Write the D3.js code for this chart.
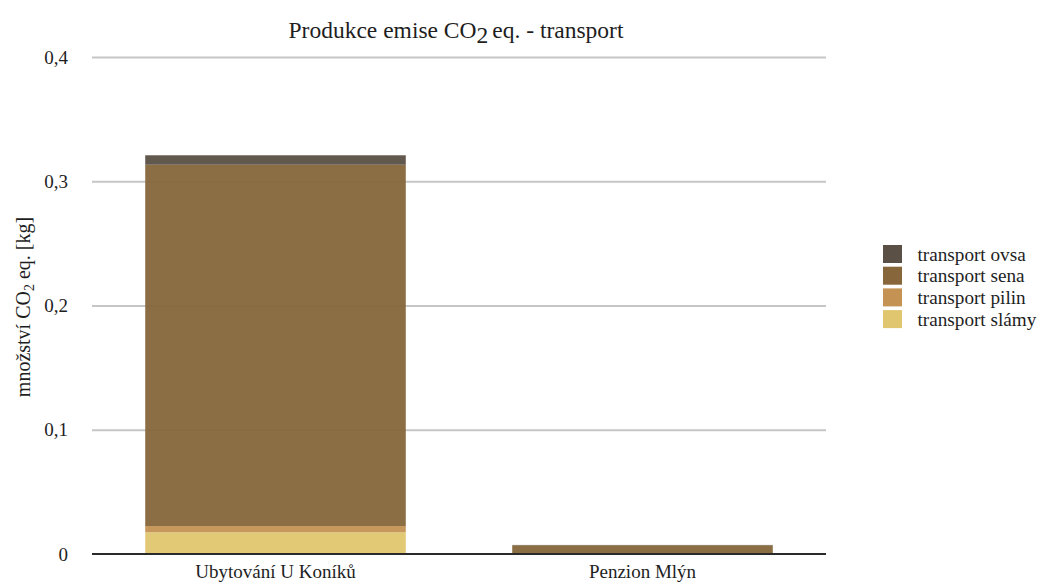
<!DOCTYPE html>
<html>
<head>
<meta charset="utf-8">
<script src="https://cdn.jsdelivr.net/npm/d3@7/dist/d3.min.js"></script>
<style>
  html, body { margin: 0; padding: 0; background: #fff; }
  svg { display: block; }
  svg text { font-family: "Liberation Serif", "Times New Roman", serif; fill: #1e1e1e; }
</style>
</head>
<body>
<svg id="chart" width="1043" height="583"></svg>
<script>
// Emise CO2 eq. z transportu podle ubytovacího zařízení
const categories = ["Ubytování U Koníků", "Penzion Mlýn"];
const seriesNames = ["transport slámy", "transport pilin", "transport sena", "transport ovsa"];
const slamy = [0.0175, 0.0];
const pilin = [0.0050, 0.0];
const sena  = [0.2908, 0.0070];
const ovsa  = [0.0076, 0.0003];
const yTicks = [0, 0.1, 0.2, 0.3, 0.4];
const colors = {
  "transport ovsa": "#5a5045",
  "transport sena": "#86663a",
  "transport pilin": "#c49253",
  "transport slámy": "#e0c66e"
};

const rows = categories.map((c, i) => ({
  cat: c,
  "transport slámy": slamy[i],
  "transport pilin": pilin[i],
  "transport sena": sena[i],
  "transport ovsa": ovsa[i]
}));

const svg = d3.select("#chart");
const plotLeft = 92, plotRight = 826, plotTop = 57, plotBottom = 554;

const x = d3.scaleBand().domain(categories).range([plotLeft, plotRight]).paddingInner(0.29).paddingOuter(0.145);
const y = d3.scaleLinear().domain([0, 0.4]).range([plotBottom, plotTop]);

// mřížka
const grid = svg.append("g").attr("transform", `translate(${plotLeft},0)`)
  .call(d3.axisLeft(y).tickValues(yTicks.filter(t => t > 0)).tickSize(-(plotRight - plotLeft)).tickFormat(""));
grid.select(".domain").remove();
grid.selectAll("line").attr("stroke", "#c6c6c6").attr("stroke-width", 2);

// popisky osy y
const fmt = d => d === 0 ? "0" : d3.format(".1f")(d).replace(".", ",");
const yAxis = svg.append("g").attr("transform", `translate(${plotLeft},0)`)
  .call(d3.axisLeft(y).tickValues(yTicks).tickSize(0).tickPadding(24).tickFormat(fmt));
yAxis.attr("font-family", null).attr("font-size", null);
yAxis.select(".domain").remove();
yAxis.selectAll("text").attr("font-size", 19);

// skládané sloupce
const stack = d3.stack().keys(seriesNames)(rows);
svg.append("g").selectAll("g").data(stack).join("g")
  .attr("fill", d => colors[d.key])
  .selectAll("rect").data(d => d).join("rect")
  .attr("x", d => x(d.data.cat))
  .attr("width", x.bandwidth())
  .attr("y", d => y(d[1]))
  .attr("height", d => y(d[0]) - y(d[1]))
  .attr("fill-opacity", 0.95);

// osa x
const xAxis = svg.append("g").attr("transform", `translate(0,${plotBottom})`)
  .call(d3.axisBottom(x).tickSize(0).tickPadding(11));
xAxis.attr("font-family", null).attr("font-size", null);
xAxis.select(".domain").attr("stroke", "#2a2a2a").attr("stroke-width", 2)
  .attr("d", `M${plotLeft},0H${plotRight}`);
xAxis.selectAll("text").attr("font-size", 19);

// nadpis
const title = svg.append("text").attr("x", 456).attr("y", 38)
  .attr("text-anchor", "middle").attr("font-size", 23.5);
title.append("tspan").text("Produkce emise CO");
title.append("tspan").attr("dy", 5).text("2");
title.append("tspan").attr("dy", -5).attr("dx", 4).text("eq. - transport");

// popisek osy y
const yl = svg.append("text")
  .attr("transform", `translate(30,${307}) rotate(-90)`)
  .attr("text-anchor", "middle").attr("font-size", 20);
yl.append("tspan").text("množství CO");
yl.append("tspan").attr("dy", 4).attr("font-size", 14).text("2");
yl.append("tspan").attr("dy", -4).text(" eq. [kg]");

// legenda
const legendOrder = ["transport ovsa", "transport sena", "transport pilin", "transport slámy"];
const lg = svg.append("g").selectAll("g").data(legendOrder).join("g")
  .attr("transform", (d, i) => `translate(883,${245 + i * 21.7})`);
lg.append("rect").attr("width", 19).attr("height", 18).attr("fill", d => colors[d]);
lg.append("text").attr("x", 34.5).attr("y", 15.5).attr("font-size", 19.2).text(d => d);
</script>
</body>
</html>
